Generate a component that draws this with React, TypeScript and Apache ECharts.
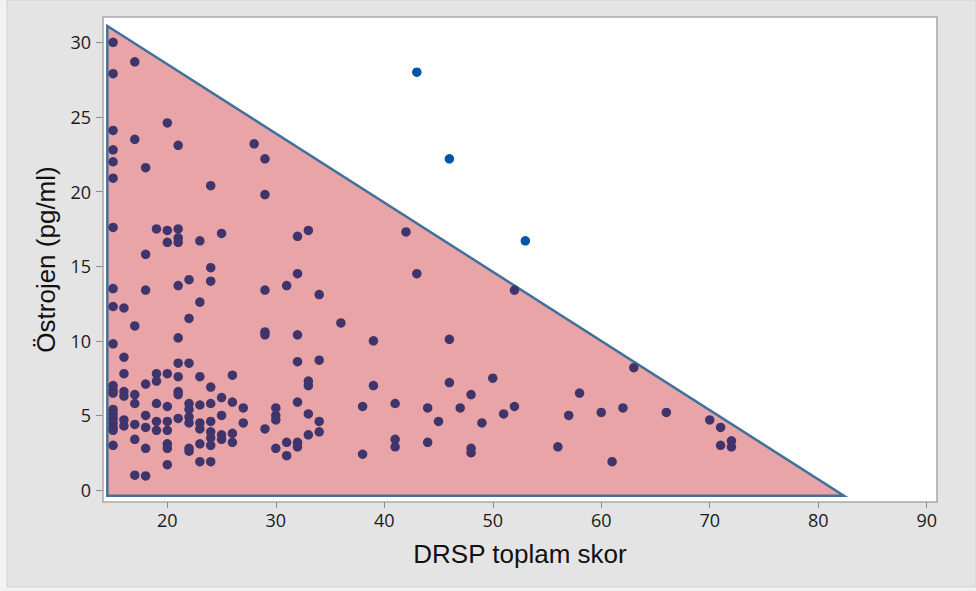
import React, { useEffect, useRef } from "react";
import * as echarts from "echarts";

const xTicks = [20, 30, 40, 50, 60, 70, 80, 90];
const yTicks = [0, 5, 10, 15, 20, 25, 30];
const xName = "DRSP toplam skor";
const yName = "Östrojen (pg/ml)";

// region polygon (DRSP score, estrogen)
const triangleX = [14.47, 14.47, 82.37];
const triangleY = [31.1, -0.38, -0.38];

// points inside the region, grouped by DRSP score
const scores = [15, 16, 17, 18, 19, 20, 21, 22, 23, 24, 25, 26, 27, 28, 29, 30, 31, 32, 33, 34, 36, 38, 39, 41, 42, 43, 44, 45, 46, 47, 48, 49, 50, 51, 52, 56, 57, 58, 60, 61, 62, 63, 66, 70, 71, 72];
const estrogenByScore = [
  [30.0, 27.9, 24.1, 22.8, 22.0, 20.9, 17.6, 13.5, 12.3, 9.8, 7.0, 6.7, 6.5, 5.4, 5.1, 4.8, 4.5, 4.2, 4.0, 3.0],
  [12.2, 8.9, 7.8, 6.6, 6.3, 4.7, 4.3],
  [28.7, 23.5, 11.0, 6.4, 5.8, 4.4, 3.4, 1.0],
  [21.6, 15.8, 13.4, 7.1, 5.0, 4.2, 2.8, 0.95],
  [17.5, 7.8, 7.3, 5.8, 4.6, 4.0],
  [24.6, 17.4, 16.6, 7.8, 5.6, 4.6, 4.0, 3.1, 2.8, 1.7],
  [23.1, 17.5, 16.9, 16.6, 13.7, 10.2, 8.5, 7.6, 6.6, 6.4, 4.8],
  [14.1, 11.5, 8.5, 5.8, 5.4, 4.9, 4.5, 2.8, 2.6],
  [16.7, 12.6, 7.6, 5.7, 4.5, 4.1, 3.1, 1.9],
  [20.4, 14.9, 14.0, 6.9, 5.8, 4.6, 3.9, 3.5, 3.0, 1.9],
  [17.2, 6.2, 5.0, 3.7, 3.4],
  [7.7, 5.9, 3.8, 3.2],
  [5.5, 4.5],
  [23.2],
  [22.2, 19.8, 13.4, 10.6, 10.4, 4.1],
  [5.5, 5.0, 4.7, 2.8],
  [13.7, 3.2, 2.3],
  [17.0, 14.5, 10.4, 8.6, 5.9, 3.2, 2.9],
  [17.4, 7.3, 7.0, 5.1, 3.7],
  [13.1, 8.7, 4.6, 3.9],
  [11.2],
  [5.6, 2.4],
  [10.0, 7.0],
  [5.8, 3.4, 2.9],
  [17.3],
  [14.5],
  [5.5, 3.2],
  [4.6],
  [10.1, 7.2],
  [5.5],
  [6.4, 2.8, 2.5],
  [4.5],
  [7.5],
  [5.1],
  [13.4, 5.6],
  [2.9],
  [5.0],
  [6.5],
  [5.2],
  [1.9],
  [5.5],
  [8.2],
  [5.2],
  [4.7],
  [4.2, 3.0],
  [3.3, 2.9],
];

// points outside the region
const outsideScores = [43, 46, 53];
const outsideEstrogen = [28.0, 22.2, 16.7];

export default function App() {
  const ref = useRef<HTMLDivElement>(null);

  useEffect(() => {
    if (!ref.current) return;
    const chart = echarts.init(ref.current, null, { renderer: "svg" });

    const inside: number[][] = [];
    scores.forEach((s, i) => {
      estrogenByScore[i].forEach((v) => inside.push([s, v]));
    });
    const outside = outsideScores.map((s, i) => [s, outsideEstrogen[i]]);
    const tri = triangleX.map((x, i) => [x, triangleY[i]]);

    const labelFont = {
      fontFamily: "'Open Sans', 'Noto Sans', sans-serif",
      fontSize: 18,
      color: "#1a1a1a",
    };

    chart.setOption({
      animation: false,
      backgroundColor: "#f2f2f2",
      graphic: [
        {
          type: "rect",
          z: -10,
          silent: true,
          shape: { x: 7, y: 0, width: 969, height: 587 },
          style: { fill: "#e4e4e4", stroke: "#d2d2d2", lineWidth: 1 },
        },
      ],
      grid: {
        left: 103,
        top: 17,
        right: 39,
        bottom: 89,
        show: true,
        backgroundColor: "#ffffff",
        borderColor: "#a8a8a8",
        borderWidth: 1.5,
      },
      xAxis: {
        type: "value",
        min: 14.07,
        max: 90.95,
        name: xName,
        nameLocation: "middle",
        nameGap: 39,
        nameTextStyle: {
          fontFamily: "'Liberation Sans', Arial, sans-serif",
          fontSize: 26,
          color: "#111",
        },
        splitLine: { show: false },
        axisLine: { show: false, onZero: false },
        axisTick: {
          show: true,
          inside: false,
          length: 6,
          customValues: xTicks,
          lineStyle: { color: "#8c8c8c", width: 1 },
        },
        axisLabel: { ...labelFont, margin: 9, customValues: xTicks },
      },
      yAxis: {
        type: "value",
        min: -0.8,
        max: 31.7,
        name: yName,
        nameLocation: "middle",
        nameGap: 44,
        nameTextStyle: {
          fontFamily: "'Liberation Sans', Arial, sans-serif",
          fontSize: 26,
          color: "#111",
        },
        splitLine: { show: false },
        axisLine: { show: false, onZero: false },
        axisTick: {
          show: true,
          inside: false,
          length: 7,
          customValues: yTicks,
          lineStyle: { color: "#8c8c8c", width: 1 },
        },
        axisLabel: { ...labelFont, margin: 12, customValues: yTicks },
      },
      series: [
        {
          type: "custom",
          data: tri,
          z: 1,
          renderItem: (params: any, api: any) => {
            if (params.dataIndex !== 0) return null;
            const pts = tri.map((p) => api.coord(p));
            return {
              type: "polygon",
              shape: { points: pts },
              style: {
                fill: "#e8a4a6",
                stroke: "#41709c",
                lineWidth: 2.5,
                lineJoin: "miter",
              },
            };
          },
        },
        {
          type: "scatter",
          data: inside,
          z: 3,
          symbol: "circle",
          symbolSize: 9.5,
          itemStyle: { color: "#3f346b", opacity: 1 },
        },
        {
          type: "scatter",
          data: outside,
          z: 3,
          symbol: "circle",
          symbolSize: 9.5,
          itemStyle: { color: "#0055a6", opacity: 1 },
        },
      ],
    });

    return () => chart.dispose();
  }, []);

  return (
    <div
      ref={ref}
      style={{ position: "fixed", left: 0, top: 0, width: 976, height: 591 }}
    />
  );
}
